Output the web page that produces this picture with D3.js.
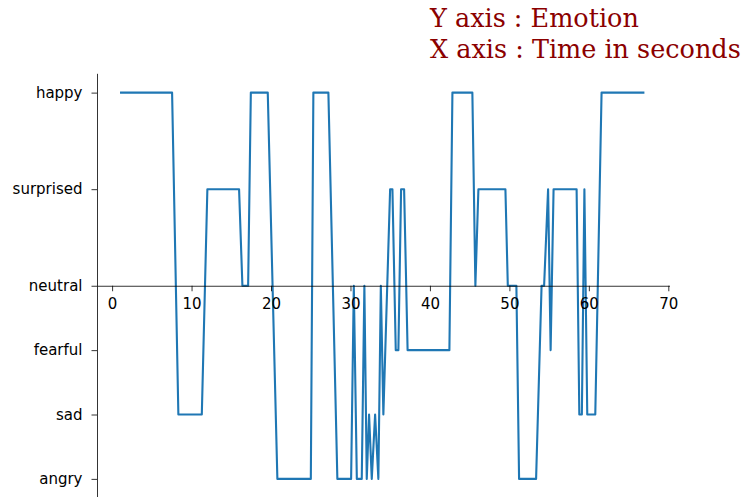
<!DOCTYPE html>
<html>
<head>
<meta charset="utf-8">
<script src="https://cdn.jsdelivr.net/npm/d3@7"></script>
<style>
    body { margin: 0; background: #fff; }
    .tick text { font-family: "DejaVu Sans", sans-serif; font-size: 15px; fill: #000; }
    .tick line, .domain { stroke: #000; stroke-width: 0.8px; }
</style>
</head>
<body>
<div id="app"></div>
<script>
// emotion categories and where they sit on the y axis
const emotionLabels = ["happy", "surprised", "neutral", "fearful", "sad", "angry"];
const emotionValues = [3, 1.5, 0, -1, -2, -3];

// time in seconds and detected emotion at each point
const times = [1.13, 7.55, 8.34, 11.29, 11.99, 15.98, 16.40, 17.12, 17.46, 19.59,
    20.80, 25.01, 25.33, 27.22, 28.35, 30.08, 30.42, 30.80, 31.42, 31.75,
    32.05, 32.34, 32.68, 33.10, 33.51, 33.82, 34.14, 34.99, 35.28, 35.70,
    36.03, 36.37, 36.75, 37.19, 42.45, 42.83, 45.34, 45.72, 46.10, 49.50,
    49.80, 50.88, 51.22, 53.36, 54.05, 54.37, 54.87, 55.19, 55.56, 58.46,
    58.80, 59.12, 59.44, 59.80, 60.81, 61.60, 66.86];
const emotions = ["happy", "happy", "sad", "sad", "surprised", "surprised", "neutral", "neutral", "happy", "happy",
    "angry", "angry", "happy", "happy", "angry", "angry", "neutral", "angry", "angry", "neutral",
    "angry", "sad", "angry", "sad", "angry", "neutral", "sad", "surprised", "surprised", "fearful",
    "fearful", "surprised", "surprised", "fearful", "fearful", "happy", "happy", "neutral", "surprised", "surprised",
    "neutral", "neutral", "angry", "angry", "neutral", "neutral", "surprised", "fearful", "surprised", "surprised",
    "sad", "sad", "surprised", "sad", "sad", "happy", "happy"];
const xTicks = [0, 10, 20, 30, 40, 50, 60, 70];

const width = 743, height = 497;

const data = times.map((t, i) => ({ t: t, v: emotionValues[emotionLabels.indexOf(emotions[i])] }));

let svg = d3.select("#app")
    .append("svg")
        .attr("width", width)
        .attr("height", height);

const x = d3.scaleLinear()
    .domain([-1.9, 70.15])
    .range([97, 669.5]);

const y = d3.scaleLinear()
    .domain([3.3, -3.3])
    .range([73.3, 498.2]);

// the emotion line
svg.append("path")
    .datum(data)
    .attr("fill", "none")
    .attr("stroke", "#1f77b4")
    .attr("stroke-width", 2.1)
    .attr("stroke-linejoin", "round")
    .attr("stroke-linecap", "square")
    .attr("d", d3.line().x(d => x(d.t)).y(d => y(d.v)));

// Y axis on the left
svg.append("g")
    .attr("transform", "translate(97,0)")
    .call(d3.axisLeft(y)
        .tickValues(emotionValues)
        .tickFormat((d, i) => emotionLabels[i])
        .tickSize(5.5)
        .tickSizeOuter(0)
        .tickPadding(9));

// X axis through neutral
svg.append("g")
    .attr("transform", `translate(0, ${y(0)})`)
    .call(d3.axisBottom(x)
        .tickValues(xTicks)
        .tickSize(5.5)
        .tickSizeOuter(0)
        .tickPadding(7.5));

// axis notes at the top
svg.append("text")
    .attr("x", 430)
    .attr("y", 26.7)
    .attr("font-family", "DejaVu Serif, serif")
    .attr("font-size", 25.5)
    .attr("fill", "#8b0000")
    .text("Y axis : Emotion");

svg.append("text")
    .attr("x", 430)
    .attr("y", 58.3)
    .attr("font-family", "DejaVu Serif, serif")
    .attr("font-size", 25.5)
    .attr("fill", "#8b0000")
    .text("X axis : Time in seconds");
</script>
</body>
</html>
